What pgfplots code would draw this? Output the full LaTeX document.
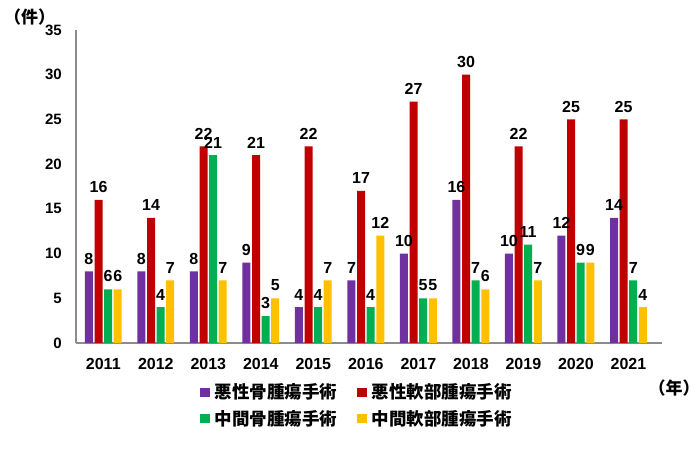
\documentclass[border=0pt]{standalone}
\usepackage{fontspec}
\setmainfont{Liberation Sans}
\newfontfamily\cjk{Noto Sans CJK JP}
\usepackage{pgfplots}
\usepackage{pgfplotstable}
\pgfplotsset{compat=1.18}
\definecolor{cP}{HTML}{7030A0}
\definecolor{cR}{HTML}{C00000}
\definecolor{cG}{HTML}{00B050}
\definecolor{cY}{HTML}{FFC000}
\definecolor{axgray}{HTML}{8C8C8C}
\pgfplotstableread{
x a b c d
0 8 16 6 6
1 8 14 4 7
2 8 22 21 7
3 9 21 3 5
4 4 22 4 7
5 7 17 4 12
6 10 27 5 5
7 16 30 7 6
8 10 22 11 7
9 12 25 9 9
10 14 25 7 4
}\data
\begin{document}
\begin{tikzpicture}[x=1pt,y=1pt]
\path[use as bounding box] (0,0) rectangle (700,450);
\begin{axis}[
  at={(76pt,107pt)}, anchor=south west,
  scale only axis, width=586pt, height=313pt,
  xmin=-0.52, xmax=10.64, ymin=0, ymax=35,
  axis x line=bottom, axis y line=left,
  axis line style={-, draw=axgray, line width=1.2pt},
  ytick={0,5,...,35},
  xtick={0,...,10},
  xticklabels={2011,2012,2013,2014,2015,2016,2017,2018,2019,2020,2021},
  major tick length=0pt,
  /pgf/number format/assume math mode=true,
  yticklabel style={font=\bfseries\fontsize{15}{15}\selectfont, anchor=east, inner sep=0pt, xshift=-14pt},
  xticklabel style={font=\bfseries\fontsize{16}{16}\selectfont, anchor=north, inner sep=0pt, yshift=-15pt},
  ybar=1.6pt, bar width=8pt,
  clip=false,
  nodes near coords,
  every node near coord/.append style={font=\bfseries\fontsize{16}{16}\selectfont, black, inner sep=0pt, anchor=south, yshift=7pt},
  legend columns=2,
  legend image code/.code={\fill[#1,draw=none] (0pt,-4.5pt) rectangle (9.5pt,4.5pt);},
  legend style={draw=none, fill=none, at={(0.2116,-0.13)}, anchor=north west,
    inner sep=0pt, row sep=10pt,
    font=\cjk\bfseries\fontsize{17.5}{17.5}\selectfont,
    nodes={inner sep=0pt, inner xsep=5pt},
    /tikz/every even column/.append style={column sep=15pt}},
]
\addplot[fill=cP, draw=none] table[x=x,y=a]{\data};
\addplot[fill=cR, draw=none] table[x=x,y=b]{\data};
\addplot[fill=cG, draw=none] table[x=x,y=c]{\data};
\addplot[fill=cY, draw=none] table[x=x,y=d]{\data};
\legend{悪性骨腫瘍手術,悪性軟部腫瘍手術,中間骨腫瘍手術,中間軟部腫瘍手術}
\end{axis}
\node[anchor=west, inner sep=0pt, font=\cjk\bfseries\fontsize{17}{17}\selectfont] at (4,433) {（件）};
\node[inner sep=0pt, font=\cjk\bfseries\fontsize{17}{17}\selectfont] at (674,62) {（年）};
\end{tikzpicture}
\end{document}
